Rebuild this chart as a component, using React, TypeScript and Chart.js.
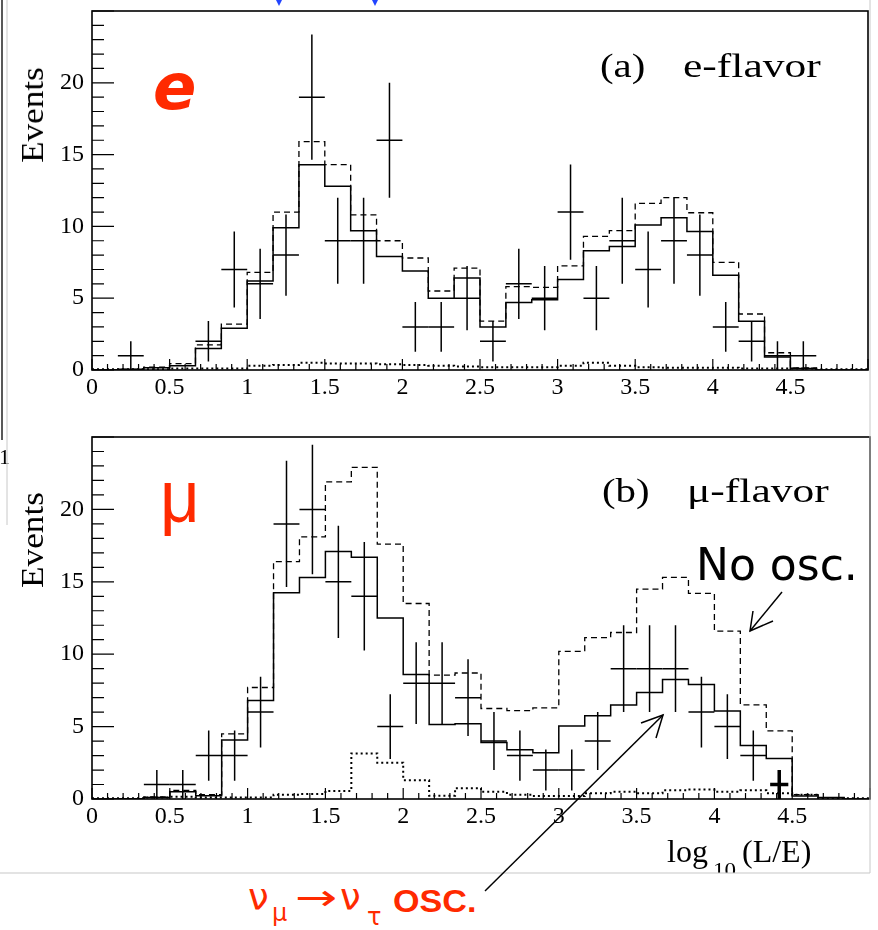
import React, { useEffect, useRef } from "react";
import { Chart, registerables } from "chart.js";

Chart.register(...registerables);

// ---------- axis setup ----------
const X_MIN = 0;
const X_MAX = 5;
const Y_MAX = 25;
const X_TICKS = [0, 0.5, 1, 1.5, 2, 2.5, 3, 3.5, 4, 4.5];
const Y_TICKS = [0, 5, 10, 15, 20];

// ---------- (a) e-flavor : 30 bins of width 1/6 over log10(L/E) 0..5 ----------
const eData = [0, 1, 0, 0, 2, 7, 6, 8, 19, 9, 9, 16, 3, 3, 5, 2, 6, 5, 11, 5, 9, 7, 9, 8, 3, 2, 1, 1, 0, 0];
const eOsc = [0, 0.05, 0.15, 0.3, 1.5, 2.9, 6.2, 9.9, 14.3, 12.8, 9.7, 7.9, 6.9, 5.0, 6.4, 3.0, 4.7, 4.9, 6.3, 8.3, 8.6, 10.1, 10.6, 9.65, 6.6, 3.4, 0.9, 0.1, 0, 0];
const eNoOsc = [0, 0.05, 0.2, 0.45, 1.75, 3.2, 6.8, 11.0, 15.9, 14.3, 10.8, 9.0, 7.8, 5.5, 7.1, 3.4, 5.8, 5.75, 7.25, 9.3, 9.7, 11.6, 12.0, 10.95, 7.5, 3.9, 1.2, 0.15, 0, 0];
const eBkg = [0.05, 0.05, 0.05, 0.1, 0.1, 0.1, 0.3, 0.35, 0.5, 0.45, 0.45, 0.4, 0.35, 0.3, 0.25, 0.2, 0.2, 0.2, 0.3, 0.5, 0.3, 0.2, 0.15, 0.15, 0.15, 0.1, 0.1, 0.1, 0.05, 0.05];
const eBoldBins: number[] = [];

// ---------- (b) mu-flavor ----------
const muData = [0, 0, 1, 1, 3, 3, 6, 19, 20, 15, 14, 5, 8, 8, 7, 4, 3, 2, 2, 4, 9, 9, 9, 6, 5, 3, 1, 0, 0, 0];
const muOsc = [0, 0.02, 0.1, 0.5, 0.23, 4.07, 6.8, 14.25, 15.3, 17.1, 16.7, 12.5, 8.6, 5.15, 5.2, 3.9, 3.4, 3.2, 5.05, 5.75, 6.5, 7.35, 8.25, 7.9, 6.07, 3.7, 2.8, 0.2, 0.1, 0];
const muNoOsc = [0, 0.02, 0.15, 0.6, 0.3, 4.5, 7.7, 16.4, 18.1, 21.9, 22.9, 17.6, 13.5, 8.55, 8.7, 6.25, 6.1, 6.3, 10.2, 11.15, 11.5, 14.5, 15.3, 14.2, 11.6, 6.5, 4.7, 0.3, 0.1, 0];
const muBkg = [0.05, 0.05, 0.1, 0.15, 0.1, 0.1, 0.1, 0.3, 0.35, 0.55, 3.15, 2.5, 1.3, 0.23, 0.75, 0.5, 0.3, 0.2, 0.2, 0.4, 0.5, 0.4, 0.6, 0.65, 0.5, 0.6, 0.4, 0.3, 0.05, 0.05];
const muBoldBins = [26];

const RED = "#ff2a00";

function hist(values: number[]) {
  const w = (X_MAX - X_MIN) / values.length;
  const pts = values.map((v, i) => ({ x: X_MIN + i * w, y: v }));
  pts.push({ x: X_MAX, y: values[values.length - 1] });
  return pts;
}

const rootPlugin = {
  id: "rootStyle",
  afterDatasetsDraw(chart: any, _args: any, opts: any) {
    const { ctx, chartArea: a } = chart;
    const x = chart.scales.x;
    const y = chart.scales.y;
    const counts: number[] = opts.counts || [];
    const bold: number[] = opts.bold || [];
    const w = (X_MAX - X_MIN) / counts.length;
    ctx.save();
    ctx.strokeStyle = "#000";
    ctx.lineCap = "butt";
    counts.forEach((n, i) => {
      if (n <= 0) return;
      const c = X_MIN + (i + 0.5) * w;
      const e = Math.sqrt(n);
      const isBold = bold.includes(i);
      const hw = isBold ? w * 0.35 : w / 2;
      const xl = x.getPixelForValue(c - hw);
      const xr = x.getPixelForValue(c + hw);
      const xc = x.getPixelForValue(c);
      const yc = y.getPixelForValue(n);
      const yt = y.getPixelForValue(n + e);
      const yb = y.getPixelForValue(Math.max(0, n - e));
      ctx.lineWidth = isBold ? 3.5 : 1.5;
      ctx.beginPath();
      ctx.moveTo(xl, yc);
      ctx.lineTo(xr, yc);
      ctx.moveTo(xc, yt);
      ctx.lineTo(xc, yb);
      ctx.stroke();
    });
    // frame
    ctx.lineWidth = 1.6;
    ctx.strokeRect(a.left, a.top, a.right - a.left, a.bottom - a.top);
    // inward ticks
    ctx.lineWidth = 1.2;
    ctx.beginPath();
    for (let v = 0; v <= Y_MAX; v++) {
      const py = y.getPixelForValue(v);
      const len = v % 5 === 0 ? 22 : 12;
      ctx.moveTo(a.left, py);
      ctx.lineTo(a.left + len, py);
    }
    for (let k = 0; k <= 50; k++) {
      const px = x.getPixelForValue(k / 10);
      const len = k % 5 === 0 ? 11 : 6;
      ctx.moveTo(px, a.bottom);
      ctx.lineTo(px, a.bottom - len);
    }
    ctx.stroke();
    ctx.restore();
  },
};

type PanelProps = {
  top: number;
  height: number;
  padTop: number;
  padRight: number;
  xHeight: number;
  counts: number[];
  osc: number[];
  noOsc: number[];
  bkg: number[];
  bold: number[];
};

function Panel(p: PanelProps) {
  const ref = useRef<HTMLCanvasElement>(null);
  useEffect(() => {
    const tickFont = { family: "'Liberation Serif', 'Times New Roman', serif", size: 24 };
    const chart = new Chart(ref.current as HTMLCanvasElement, {
      type: "line",
      data: {
        datasets: [
          { data: hist(p.osc), borderColor: "#000", borderWidth: 1.5, stepped: true, pointRadius: 0, fill: false },
          { data: hist(p.noOsc), borderColor: "#000", borderWidth: 1.3, borderDash: [6, 4], stepped: true, pointRadius: 0, fill: false },
          { data: hist(p.bkg), borderColor: "#000", borderWidth: 2, borderDash: [2, 3], stepped: true, pointRadius: 0, fill: false },
        ] as any,
      },
      options: {
        responsive: false,
        animation: false,
        devicePixelRatio: 1,
        events: [],
        layout: { padding: { top: p.padTop, right: p.padRight, left: 0, bottom: 0 } },
        scales: {
          x: {
            type: "linear",
            min: X_MIN,
            max: X_MAX,
            grid: { display: false, drawTicks: false },
            border: { display: false },
            ticks: { font: tickFont, color: "#000", padding: 3, maxRotation: 0, autoSkip: false, callback: (v: any) => String(v) },
            afterBuildTicks: (s: any) => {
              s.ticks = X_TICKS.map((v) => ({ value: v }));
            },
            afterFit: (s: any) => {
              s.height = p.xHeight;
              s.paddingLeft = 0;
              s.paddingRight = 0;
            },
          },
          y: {
            type: "linear",
            min: 0,
            max: Y_MAX,
            grid: { display: false, drawTicks: false },
            border: { display: false },
            ticks: { font: tickFont, color: "#000", padding: 8, callback: (v: any) => String(v) },
            afterBuildTicks: (s: any) => {
              s.ticks = Y_TICKS.map((v) => ({ value: v }));
            },
            afterFit: (s: any) => {
              s.width = 92;
              s.paddingTop = 0;
              s.paddingBottom = 0;
            },
          },
        },
        plugins: {
          legend: { display: false },
          tooltip: { enabled: false },
          rootStyle: { counts: p.counts, bold: p.bold },
        } as any,
      },
      plugins: [rootPlugin],
    });
    return () => chart.destroy();
  }, []);
  return (
    <canvas
      ref={ref}
      width={878}
      height={p.height}
      style={{ position: "absolute", left: 0, top: p.top, width: 878, height: p.height }}
    />
  );
}

const SERIF = "'Liberation Serif', 'Times New Roman', serif";
const SANS = "'Liberation Sans', Arial, sans-serif";
const DJ = "'DejaVu Sans', sans-serif";

function T(props: { left: number; top: number; size: number; family: string; color?: string; sx?: number; weight?: any; italic?: boolean; children: any }) {
  return (
    <div
      style={{
        position: "absolute",
        left: props.left,
        top: props.top,
        fontSize: props.size,
        lineHeight: 1,
        fontFamily: props.family,
        color: props.color || "#000",
        fontWeight: props.weight || "normal",
        fontStyle: props.italic ? "italic" : "normal",
        whiteSpace: "pre",
        transformOrigin: "left center",
        transform: props.sx ? `scaleX(${props.sx})` : undefined,
      }}
    >
      {props.children}
    </div>
  );
}

function Events({ cy }: { cy: number }) {
  return (
    <div
      style={{
        position: "absolute",
        left: 32,
        top: cy,
        fontSize: 32,
        lineHeight: 1,
        fontFamily: SERIF,
        whiteSpace: "pre",
        transform: "translate(-50%, -50%) rotate(-90deg) scaleX(1.1)",
      }}
    >
      Events
    </div>
  );
}

export default function App() {
  return (
    <div style={{ position: "absolute", left: 0, top: 0, width: 878, height: 930, background: "#fff", overflow: "hidden" }}>
      <Panel top={0} height={420} padTop={11} padRight={10} xHeight={50} counts={eData} osc={eOsc} noOsc={eNoOsc} bkg={eBkg} bold={eBoldBins} />
      <Panel top={420} height={430} padTop={17} padRight={8} xHeight={51} counts={muData} osc={muOsc} noOsc={muNoOsc} bkg={muBkg} bold={muBoldBins} />

      {/* panel (a) texts */}
      <T left={600} top={48.5} size={34} family={SERIF} sx={1.2}>(a)</T>
      <T left={683} top={48.5} size={34} family={SERIF} sx={1.28}>e-flavor</T>
      <Events cy={115} />
      <T left={153} top={55} size={64} family={DJ} color={RED} weight="bold" italic>e</T>

      {/* panel (b) texts */}
      <T left={602} top={473.5} size={34} family={SERIF} sx={1.2}>(b)</T>
      <T left={687} top={473.5} size={34} family={SERIF} sx={1.28}>μ-flavor</T>
      <Events cy={540} />
      <T left={160} top={458.5} size={75} family={SANS} color={RED} sx={0.92}>μ</T>
      <T left={696} top={543} size={44} family={DJ}>No osc.</T>

      {/* x axis title */}
      <T left={667} top={835} size={32} family={SERIF}>log</T>
      <div style={{ position: "absolute", left: 713, top: 860, height: 13, width: 30, overflow: "hidden" }}>
        <div style={{ position: "absolute", left: 0, top: 0, fontSize: 20, lineHeight: 1, fontFamily: SERIF, transformOrigin: "left center", transform: "scaleX(1.15)" }}>10</div>
      </div>
      <T left={742} top={835} size={32} family={SERIF}>(L/E)</T>

      {/* stray fragment at left edge */}
      <T left={-1} top={446} size={22} family={SERIF}>1</T>

      {/* red annotation */}
      <T left={248} top={878.7} size={37} family={DJ} color={RED}>ν</T>
      <T left={272} top={900.7} size={24} family={DJ} color={RED}>μ</T>
      <T left={295} top={879.5} size={36} family={DJ} color={RED} sx={1.4}>→</T>
      <T left={340} top={878.7} size={37} family={DJ} color={RED}>ν</T>
      <T left={367} top={904.7} size={24} family={DJ} color={RED}>τ</T>
      <T left={393} top={885.8} size={31} family={SANS} color={RED} weight="bold" sx={1.1}>OSC.</T>

      <svg width={878} height={930} style={{ position: "absolute", left: 0, top: 0, pointerEvents: "none" }}>
        {/* slide remnants */}
        <line x1={2} y1={0} x2={2} y2={440} stroke="#222" strokeWidth={1.5} />
        <line x1={7} y1={0} x2={7} y2={525} stroke="#c8c8c8" strokeWidth={1} />
        <line x1={870} y1={0} x2={870} y2={873} stroke="#c8c8c8" strokeWidth={1} />
        <line x1={0} y1={873} x2={870} y2={873} stroke="#c8c8c8" strokeWidth={1.2} />
        <polygon points="276,0 282,0 279,6" fill="#2244ff" />
        <polygon points="372,0 378,0 375,6" fill="#2244ff" />
        {/* No osc. arrow */}
        <line x1={782} y1={592} x2={750} y2={631} stroke="#000" strokeWidth={1.5} />
        <polyline points="753,611 750,631 773,621" fill="none" stroke="#000" strokeWidth={1.5} />
        {/* oscillation arrow */}
        <line x1={485} y1={891} x2={663} y2={715} stroke="#000" strokeWidth={1.5} />
        <polyline points="641,723 663,715 656,738" fill="none" stroke="#000" strokeWidth={1.5} />
      </svg>
    </div>
  );
}
